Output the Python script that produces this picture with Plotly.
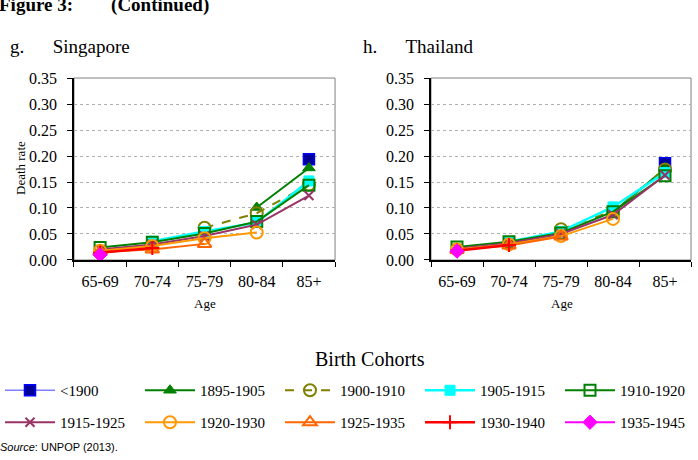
import plotly.graph_objects as go

ages = ["65-69", "70-74", "75-79", "80-84", "85+"]
cohorts = ["<1900", "1895-1905", "1900-1910", "1905-1915", "1910-1920",
           "1915-1925", "1920-1930", "1925-1935", "1930-1940", "1935-1945"]

# Singapore death rates by cohort (None = not observed)
sg_c1 = [None, None, None, None, 0.194]
sg_c2 = [None, None, None, 0.101, 0.177]
sg_c3 = [None, None, 0.062, 0.090, 0.145]
sg_c4 = [None, 0.036, 0.055, 0.072, 0.152]
sg_c5 = [0.024, 0.034, 0.051, 0.074, 0.144]
sg_c6 = [0.020, 0.030, 0.046, 0.068, 0.124]
sg_c7 = [0.018, 0.027, 0.042, 0.053, None]
sg_c8 = [0.016, 0.020, 0.031, None, None]
sg_c9 = [0.014, 0.023, None, None, None]
sg_c10 = [0.010, None, None, None, None]

# Thailand death rates by cohort
th_c1 = [None, None, None, None, 0.186]
th_c2 = [None, None, None, 0.092, 0.176]
th_c3 = [None, None, 0.059, 0.094, 0.174]
th_c4 = [None, 0.035, 0.055, 0.102, 0.168]
th_c5 = [0.025, 0.035, 0.052, 0.093, 0.162]
th_c6 = [0.022, 0.032, 0.050, 0.087, 0.163]
th_c7 = [0.020, 0.030, 0.046, 0.079, None]
th_c8 = [0.019, 0.028, 0.045, None, None]
th_c9 = [0.018, 0.029, None, None, None]
th_c10 = [0.017, None, None, None, None]

sg_series = [sg_c1, sg_c2, sg_c3, sg_c4, sg_c5, sg_c6, sg_c7, sg_c8, sg_c9, sg_c10]
th_series = [th_c1, th_c2, th_c3, th_c4, th_c5, th_c6, th_c7, th_c8, th_c9, th_c10]

y_ticks = [0.0, 0.05, 0.10, 0.15, 0.20, 0.25, 0.30, 0.35]

styles = [
    dict(line=dict(color="#8080ff", width=1.5), marker=dict(symbol="square", color="#000099", size=11, line=dict(color="#0000ff", width=1.5))),
    dict(line=dict(color="#008000", width=2), marker=dict(symbol="triangle-up", color="#008000", size=11, line=dict(color="#008000", width=1))),
    dict(line=dict(color="#808000", width=2, dash="dash"), marker=dict(symbol="circle-open", color="#808000", size=12, line=dict(color="#808000", width=2))),
    dict(line=dict(color="#00ffff", width=2.5), marker=dict(symbol="square", color="#00ffff", size=10, line=dict(color="#00ffff", width=1))),
    dict(line=dict(color="#008000", width=2), marker=dict(symbol="square-open", color="#008000", size=11, line=dict(color="#008000", width=2))),
    dict(line=dict(color="#993366", width=2), marker=dict(symbol="x-thin", color="#993366", size=9, line=dict(color="#993366", width=2))),
    dict(line=dict(color="#ff9900", width=2), marker=dict(symbol="circle-open", color="#ff9900", size=12, line=dict(color="#ff9900", width=2))),
    dict(line=dict(color="#ff6600", width=2), marker=dict(symbol="triangle-up-open", color="#ff6600", size=12, line=dict(color="#ff6600", width=2))),
    dict(line=dict(color="#ff0000", width=2.5), marker=dict(symbol="cross-thin", color="#ff0000", size=10, line=dict(color="#ff0000", width=2))),
    dict(line=dict(color="#ff00ff", width=2), marker=dict(symbol="diamond", color="#ff00ff", size=11, line=dict(color="#ff00ff", width=1))),
]

fig = go.Figure()
for i, name in enumerate(cohorts):
    leg = "legend" if i < 5 else "legend2"
    st = styles[i]
    fig.add_trace(go.Scatter(x=ages, y=sg_series[i], name=name, mode="lines+markers",
                             line=st["line"], marker=st["marker"], xaxis="x", yaxis="y",
                             legend=leg, connectgaps=False))
for i, name in enumerate(cohorts):
    st = styles[i]
    fig.add_trace(go.Scatter(x=ages, y=th_series[i], name=name, mode="lines+markers",
                             line=st["line"], marker=st["marker"], xaxis="x2", yaxis="y2",
                             showlegend=False, connectgaps=False))

serif = "Liberation Serif, Times New Roman, serif"
tickfont = dict(family=serif, size=16, color="#000")

xcommon = dict(type="category", categoryorder="array", categoryarray=ages,
               tickson="boundaries", ticks="outside", ticklen=5, tickcolor="#000",
               showline=True, linecolor="#000", linewidth=1.5, showgrid=False,
               tickfont=tickfont, range=[-0.5, 4.5], fixedrange=True, ticklabelstandoff=6,
               automargin=False)
ycommon = dict(range=[0, 0.35], tickvals=y_ticks, tickformat=".2f", ticks="outside",
               ticklen=5, tickcolor="#000", showline=True, linecolor="#000", linewidth=1.5,
               showgrid=True, gridcolor="#b0b0b0", griddash="dot", gridwidth=1,
               tickfont=tickfont, zeroline=False, ticklabelstandoff=7, automargin=False)

legfont = dict(family=serif, size=15, color="#000")
yd = [0.4348, 0.8304]
fig.update_layout(
    width=698, height=460, margin=dict(l=0, r=0, t=0, b=0, pad=0),
    paper_bgcolor="white", plot_bgcolor="white",
    xaxis=dict(domain=[0.106, 0.480], anchor="y", **xcommon),
    yaxis=dict(domain=yd, anchor="x", **ycommon),
    xaxis2=dict(domain=[0.6175, 0.990], anchor="y2", **xcommon),
    yaxis2=dict(domain=yd, anchor="x2", **ycommon),
    showlegend=True,
    legend=dict(orientation="h", x=0.0, xanchor="left", y=1 - 374 / 460, yanchor="top",
                font=legfont, itemwidth=50, itemsizing="trace",
                entrywidth=75, entrywidthmode="pixels", bgcolor="rgba(0,0,0,0)"),
    legend2=dict(orientation="h", x=0.0, xanchor="left", y=1 - 406 / 460, yanchor="top",
                 font=legfont, itemwidth=50, itemsizing="trace",
                 entrywidth=75, entrywidthmode="pixels", bgcolor="rgba(0,0,0,0)"),
)

# plot area frame (grey top/right)
for xr, yr in [("x domain", "y domain"), ("x2 domain", "y2 domain")]:
    fig.add_shape(type="rect", xref=xr, yref=yr, x0=0, x1=1, y0=0, y1=1,
                  line=dict(color="#808080", width=1), layer="below")


def add_text(text, x, y, size, family=serif, anchor="left"):
    fig.add_annotation(text=text, x=x / 698, y=1 - y / 460, xref="paper", yref="paper",
                       showarrow=False, xanchor=anchor, yanchor="middle",
                       font=dict(family=family, size=size, color="#000"))


add_text("<b>Figure 3:        (Continued)</b>", -3, 5, 19)
add_text("g.      Singapore", 8, 47, 19)
add_text("h.      Thailand", 361, 47, 19)
add_text("Age", 205, 303, 13, anchor="center")
add_text("Age", 562, 303, 13, anchor="center")
add_text("Birth Cohorts", 370, 359, 20, anchor="center")
add_text("<i>Source</i>: UNPOP (2013).", -2, 447, 11, family="Liberation Sans, Arial, sans-serif")
fig.add_annotation(text="Death rate", x=20 / 698, y=1 - 168 / 460, xref="paper", yref="paper",
                   showarrow=False, textangle=-90, xanchor="center", yanchor="middle",
                   font=dict(family=serif, size=13, color="#000"))

fig.write_html("out.html")
